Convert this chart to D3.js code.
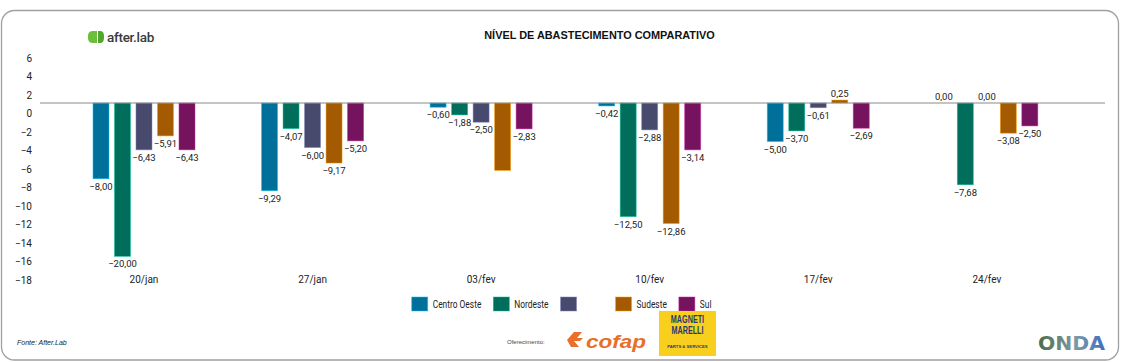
<!DOCTYPE html>
<html><head><meta charset="utf-8">
<script src="https://cdn.jsdelivr.net/npm/d3@7"></script>
<style>
html,body{margin:0;padding:0;background:#fff;}
svg{display:block;}
text{font-family:Roboto,"Liberation Sans",sans-serif;}
</style></head>
<body>
<svg id="chart" width="1121" height="362"></svg>
<script>
// ---- data ----
const categories = ["20/jan","27/jan","03/fev","10/fev","17/fev","24/fev"];
const series = ["Centro Oeste","Nordeste","","Sudeste","Sul"];
const seriesKeys = ["co","ne","x","se","su"];
const colors = ["#00709b","#006e5a","#474a6d","#a35a00","#75135f"];
// bar lengths as drawn in the picture
const centroOeste = [-8.2, -9.5, -0.46, -0.32, -4.17, 0];
const nordeste    = [-16.6, -2.77, -1.29, -12.3, -3.02, -8.85];
const cinza       = [-5.07, -4.82, -2.08, -2.91, -0.51, 0];
const sudeste     = [-3.56, -6.5, -7.3, -13.05, 0.32, -3.27];
const sul         = [-5.07, -4.1, -2.8, -5.07, -2.73, -2.48];
// value labels printed on the picture
const centroOesteLabels = ["-8,00","-9,29","-0,60","-0,42","-5,00","0,00"];
const nordesteLabels    = ["-20,00","-4,07","-1,88","-12,50","-3,70","-7,68"];
const cinzaLabels       = ["-6,43","-6,00","-2,50","-2,88","-0,61","0,00"];
const sudesteLabels     = ["-5,91","-9,17",null,"-12,86","0,25","-3,08"];
const sulLabels         = ["-6,43","-5,20","-2,83","-3,14","-2,69","-2,50"];
const yTicks = [6,4,2,0,-2,-4,-6,-8,-10,-12,-14,-16,-18];

const values = [centroOeste, nordeste, cinza, sudeste, sul];
const labels = [centroOesteLabels, nordesteLabels, cinzaLabels, sudesteLabels, sulLabels];

const svg = d3.select("#chart");

// frame
svg.append("rect").attr("x",1.5).attr("y",10.5).attr("width",1117).attr("height",349.5)
  .attr("rx",13).attr("fill","#fff").attr("stroke","#a0a0a0").attr("stroke-width",1.3);

// title
svg.append("text").attr("x",599.5).attr("y",39).attr("text-anchor","middle")
  .style("font-family","'Liberation Sans',Arial,sans-serif").style("font-weight","bold")
  .style("font-size","10.9px").attr("fill","#111").text("NÍVEL DE ABASTECIMENTO COMPARATIVO");

// after.lab logo
const lg = svg.append("g");
lg.append("path").attr("d","M88,36 q0,-5 5,-5 h4 v12 h-4 q-5,0 -5,-5 z").attr("fill","#6cbf3c");
lg.append("path").attr("d","M98,31 h2 q4,0 4,5 v2 q0,5 -4,5 h-2 z").attr("fill","#4fa72c");
lg.append("text").attr("x",107).attr("y",42).style("font-size","13.5px").style("font-weight","500")
  .attr("fill","#3a3a3a").style("letter-spacing","-0.3px").text("after.lab");

// scales
const x0 = d3.scaleBand().domain(categories).range([59.7, 1071.1]);
const x1 = d3.scaleBand().domain(seriesKeys).range([-53.75, 53.75]).paddingInner(0.256).paddingOuter(0.128);
const yBar = d3.scaleLinear().domain([-19.16, 4.84]).range([280, 58.3]);
const yAxisScale = d3.scaleLinear().domain([-18, 6]).range([280, 58.3]);

// y axis labels
const ya = svg.append("g").attr("transform","translate(32,0)")
  .call(d3.axisLeft(yAxisScale).tickValues(yTicks).tickSize(0).tickPadding(0).tickFormat(d3.format("d")));
ya.select(".domain").remove();
ya.selectAll("text").style("font-family","Roboto,sans-serif").style("font-size","10px").attr("fill","#222")
  .text(d => String(d).replace("-", "\u2212"));

// x axis labels
const xa = svg.append("g").attr("transform","translate(0,276)")
  .call(d3.axisBottom(x0).tickSize(0).tickPadding(0));
xa.select(".domain").remove();
xa.selectAll("text").style("font-family","Roboto,sans-serif").style("font-size","10px").attr("fill","#222");

// bars
const groups = svg.append("g").selectAll("g").data(categories).join("g")
  .attr("transform", d => `translate(${x0(d)+x0.bandwidth()/2},0)`);
seriesKeys.forEach((k, si) => {
  groups.append("rect")
    .attr("x", x1(k)).attr("width", x1.bandwidth())
    .attr("y", (d,i) => yBar(Math.max(0, values[si][i])))
    .attr("height", (d,i) => Math.abs(yBar(values[si][i]) - yBar(0)))
    .attr("fill", colors[si])
    .attr("stroke", d3.color(colors[si]).brighter(1.6)).attr("stroke-width",0.8)
    .attr("stroke-opacity",0.6);
});
// baseline
svg.append("line").attr("x1",40).attr("x2",1105).attr("y1",yBar(0)).attr("y2",yBar(0))
  .attr("stroke","#8a8a8a").attr("stroke-width",1);

// value labels
seriesKeys.forEach((k, si) => {
  groups.append("text")
    .attr("x", x1(k) + x1.bandwidth()/2)
    .attr("y", (d,i) => values[si][i] < 0 ? yBar(values[si][i]) + 11 : yBar(values[si][i]) - 3)
    .attr("text-anchor","middle")
    .style("font-family","Roboto,sans-serif").style("font-size","9.5px").attr("fill","#222")
    .text((d,i) => labels[si][i] === null ? "" : labels[si][i].replace("-", "\u2212"));
});

// legend
const leg = svg.append("g");
let lx = 411.7;
series.forEach((s, si) => {
  const g = leg.append("g").attr("transform",`translate(${lx},297)`);
  g.append("rect").attr("width",16).attr("height",14).attr("fill",colors[si])
    .attr("stroke", d3.color(colors[si]).brighter(1.6)).attr("stroke-opacity",0.6).attr("stroke-width",0.8);
  const t = g.append("text").attr("transform","translate(21,11) scale(0.84,1)")
    .style("font-family","Roboto,sans-serif")
    .style("font-size","10px").attr("fill","#222").text(s);
  const w = s ? t.node().getComputedTextLength() * 0.84 : 22;
  lx += 21 + w + 12;
});

// footer
svg.append("text").attr("x",17).attr("y",345).style("font-family","'Liberation Sans',Arial,sans-serif")
  .style("font-style","italic").style("font-size","7px").attr("fill","#222").text("Fonte: After.Lab");
svg.append("text").attr("x",507).attr("y",344).style("font-family","'Liberation Sans',Arial,sans-serif")
  .style("font-size","6px").attr("fill","#444").text("Oferecimento:");

// cofap logo
const cf = svg.append("g");
cf.append("path").attr("d","M567,340 l7,-8 h8 l-5,6 h6 l-3,3 h-6 l5,6 h-8 z").attr("fill","#e8702a");
cf.append("text").attr("x",586).attr("y",347.5).style("font-family","'Liberation Sans',Arial,sans-serif")
  .style("font-weight","bold").style("font-style","italic").style("font-size","19px")
  .attr("fill","#e8702a").attr("textLength",60).attr("lengthAdjust","spacingAndGlyphs").text("cofap");

// Magneti Marelli logo
const mm = svg.append("g");
mm.append("rect").attr("x",659).attr("y",311).attr("width",57).attr("height",45).attr("fill","#f8cf1c");
mm.append("text").attr("x",687.5).attr("y",323).attr("text-anchor","middle")
  .style("font-family","'Liberation Sans',Arial,sans-serif").style("font-weight","bold").style("font-size","8.5px")
  .attr("fill","#233a7a").attr("transform","translate(687.5,323) scale(0.85,1.2) translate(-687.5,-323)").text("MAGNETI");
mm.append("text").attr("x",687.5).attr("y",334).attr("text-anchor","middle")
  .style("font-family","'Liberation Sans',Arial,sans-serif").style("font-weight","bold").style("font-size","8.5px")
  .attr("fill","#233a7a").attr("transform","translate(687.5,334) scale(0.85,1.2) translate(-687.5,-334)").text("MARELLI");
mm.append("text").attr("x",687.5).attr("y",348).attr("text-anchor","middle")
  .style("font-family","'Liberation Sans',Arial,sans-serif").style("font-weight","bold").style("font-size","4.2px")
  .attr("fill","#233a7a").text("PARTS & SERVICES");

// ONDA logo
const defs = svg.append("defs");
const gr = defs.append("linearGradient").attr("id","ondaGrad").attr("x1","0").attr("x2","1");
gr.append("stop").attr("offset","0").attr("stop-color","#4d6b4a");
gr.append("stop").attr("offset","0.55").attr("stop-color","#7d9aa6");
gr.append("stop").attr("offset","1").attr("stop-color","#3e6fc0");
svg.append("text").attr("x",1038).attr("y",350).style("font-family","'DejaVu Sans',sans-serif")
  .style("font-weight","bold").style("font-size","19px").attr("fill","url(#ondaGrad)")
  .attr("textLength",67).attr("lengthAdjust","spacingAndGlyphs").text("ONDA");
</script>
</body></html>
